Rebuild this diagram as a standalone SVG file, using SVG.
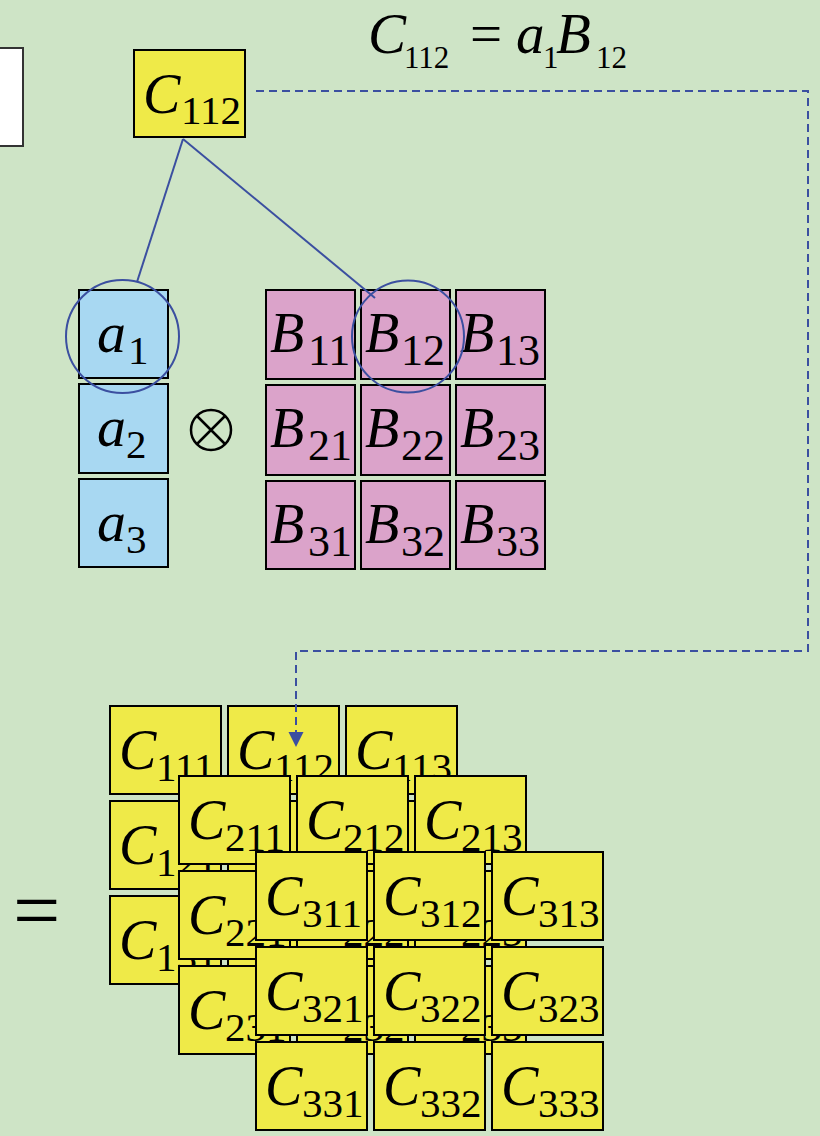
<svg xmlns="http://www.w3.org/2000/svg" width="820" height="1136" viewBox="0 0 820 1136" font-family="'Liberation Serif', 'DejaVu Serif', serif">
<defs>
<style>
.yb{fill:#EFEA48;stroke:#000;stroke-width:2}
.bb{fill:#A8D8F2;stroke:#000;stroke-width:2}
.pb{fill:#DBA3CA;stroke:#000;stroke-width:2}
.L{font-style:italic;font-size:56px}
.A{font-style:italic;font-size:58px}
.S{font-size:41px}
.SB{font-size:44px}
.FL{font-style:italic;font-size:57px}
.FR{font-size:57px}
.FS{font-size:31px}
.ln{fill:none;stroke:#3B4FA0;stroke-width:2}
.dash{fill:none;stroke:#3B4FA0;stroke-width:2;stroke-dasharray:8 5}
</style>
</defs>
<rect x="0" y="0" width="820" height="1136" fill="#CEE4C6"/>
<g id="whitebox"><rect x="-5" y="48" width="28" height="98" fill="#fff" stroke="#333" stroke-width="2"/></g>
<g id="formula">
<text class="FL" x="368" y="53">C</text><text class="FS" x="404" y="68">112</text>
<text class="FR" x="470" y="53">=</text>
<text class="FL" x="516" y="53">a</text><text class="FS" x="543" y="68">1</text>
<text class="FL" x="556" y="53">B</text><text class="FS" x="596" y="68">12</text>
</g>
<g id="c112top"><rect class="yb" x="134" y="50" width="111" height="87"/><text class="L" x="143" y="113">C</text><text class="S" x="181" y="124">112</text></g>
<g id="a1"><rect class="bb" x="79" y="290" width="89" height="88"/><text class="A" x="97" y="352">a</text><text class="S" x="128" y="364">1</text></g>
<g id="a2"><rect class="bb" x="79" y="384" width="89" height="89"/><text class="A" x="97" y="446">a</text><text class="S" x="126" y="458">2</text></g>
<g id="a3"><rect class="bb" x="79" y="479" width="89" height="88"/><text class="A" x="97" y="541">a</text><text class="S" x="126" y="553">3</text></g>
<g id="otimes"><circle cx="211" cy="430" r="20" fill="none" stroke="#000" stroke-width="2.5"/><path d="M197 416 L225 444 M225 416 L197 444" stroke="#000" stroke-width="2.5"/></g>
<g id="B11"><rect class="pb" x="266" y="290" width="89" height="89"/><text class="L" x="270" y="352">B</text><text class="SB" x="308" y="365">11</text></g>
<g id="B12"><rect class="pb" x="361" y="290" width="89" height="89"/><text class="L" x="365" y="352">B</text><text class="SB" x="401" y="365">12</text></g>
<g id="B13"><rect class="pb" x="456" y="290" width="89" height="89"/><text class="L" x="460" y="352">B</text><text class="SB" x="496" y="365">13</text></g>
<g id="B21"><rect class="pb" x="266" y="385" width="89" height="90"/><text class="L" x="270" y="447">B</text><text class="SB" x="308" y="460">21</text></g>
<g id="B22"><rect class="pb" x="361" y="385" width="89" height="90"/><text class="L" x="365" y="447">B</text><text class="SB" x="401" y="460">22</text></g>
<g id="B23"><rect class="pb" x="456" y="385" width="89" height="90"/><text class="L" x="460" y="447">B</text><text class="SB" x="496" y="460">23</text></g>
<g id="B31"><rect class="pb" x="266" y="481" width="89" height="88"/><text class="L" x="270" y="543">B</text><text class="SB" x="308" y="556">31</text></g>
<g id="B32"><rect class="pb" x="361" y="481" width="89" height="88"/><text class="L" x="365" y="543">B</text><text class="SB" x="401" y="556">32</text></g>
<g id="B33"><rect class="pb" x="456" y="481" width="89" height="88"/><text class="L" x="460" y="543">B</text><text class="SB" x="496" y="556">33</text></g>
<g id="equals"><text x="13" y="939" font-size="84">=</text></g>
<g id="C111"><rect class="yb" x="110" y="706" width="111" height="88"/><text class="L" x="119" y="769">C</text><text class="S" x="156" y="781">111</text></g>
<g id="C112"><rect class="yb" x="228" y="706" width="111" height="88"/><text class="L" x="237" y="769">C</text><text class="S" x="274" y="781">112</text></g>
<g id="C113"><rect class="yb" x="346" y="706" width="111" height="88"/><text class="L" x="355" y="769">C</text><text class="S" x="392" y="781">113</text></g>
<g id="C121"><rect class="yb" x="110" y="801" width="111" height="88"/><text class="L" x="119" y="864">C</text><text class="S" x="156" y="876">121</text></g>
<g id="C122"><rect class="yb" x="228" y="801" width="111" height="88"/><text class="L" x="237" y="864">C</text><text class="S" x="274" y="876">122</text></g>
<g id="C123"><rect class="yb" x="346" y="801" width="111" height="88"/><text class="L" x="355" y="864">C</text><text class="S" x="392" y="876">123</text></g>
<g id="C131"><rect class="yb" x="110" y="896" width="111" height="88"/><text class="L" x="119" y="959">C</text><text class="S" x="156" y="971">131</text></g>
<g id="C132"><rect class="yb" x="228" y="896" width="111" height="88"/><text class="L" x="237" y="959">C</text><text class="S" x="274" y="971">132</text></g>
<g id="C133"><rect class="yb" x="346" y="896" width="111" height="88"/><text class="L" x="355" y="959">C</text><text class="S" x="392" y="971">133</text></g>
<g id="C211"><rect class="yb" x="179" y="776" width="111" height="88"/><text class="L" x="188" y="839">C</text><text class="S" x="225" y="851">211</text></g>
<g id="C212"><rect class="yb" x="297" y="776" width="111" height="88"/><text class="L" x="306" y="839">C</text><text class="S" x="343" y="851">212</text></g>
<g id="C213"><rect class="yb" x="415" y="776" width="111" height="88"/><text class="L" x="424" y="839">C</text><text class="S" x="461" y="851">213</text></g>
<g id="C221"><rect class="yb" x="179" y="871" width="111" height="88"/><text class="L" x="188" y="934">C</text><text class="S" x="225" y="946">221</text></g>
<g id="C222"><rect class="yb" x="297" y="871" width="111" height="88"/><text class="L" x="306" y="934">C</text><text class="S" x="343" y="946">222</text></g>
<g id="C223"><rect class="yb" x="415" y="871" width="111" height="88"/><text class="L" x="424" y="934">C</text><text class="S" x="461" y="946">223</text></g>
<g id="C231"><rect class="yb" x="179" y="966" width="111" height="88"/><text class="L" x="188" y="1029">C</text><text class="S" x="225" y="1041">231</text></g>
<g id="C232"><rect class="yb" x="297" y="966" width="111" height="88"/><text class="L" x="306" y="1029">C</text><text class="S" x="343" y="1041">232</text></g>
<g id="C233"><rect class="yb" x="415" y="966" width="111" height="88"/><text class="L" x="424" y="1029">C</text><text class="S" x="461" y="1041">233</text></g>
<g id="C311"><rect class="yb" x="256" y="852" width="111" height="88"/><text class="L" x="265" y="915">C</text><text class="S" x="302" y="927">311</text></g>
<g id="C312"><rect class="yb" x="374" y="852" width="111" height="88"/><text class="L" x="383" y="915">C</text><text class="S" x="420" y="927">312</text></g>
<g id="C313"><rect class="yb" x="492" y="852" width="111" height="88"/><text class="L" x="501" y="915">C</text><text class="S" x="538" y="927">313</text></g>
<g id="C321"><rect class="yb" x="256" y="947" width="111" height="88"/><text class="L" x="265" y="1010">C</text><text class="S" x="302" y="1022">321</text></g>
<g id="C322"><rect class="yb" x="374" y="947" width="111" height="88"/><text class="L" x="383" y="1010">C</text><text class="S" x="420" y="1022">322</text></g>
<g id="C323"><rect class="yb" x="492" y="947" width="111" height="88"/><text class="L" x="501" y="1010">C</text><text class="S" x="538" y="1022">323</text></g>
<g id="C331"><rect class="yb" x="256" y="1042" width="111" height="88"/><text class="L" x="265" y="1105">C</text><text class="S" x="302" y="1117">331</text></g>
<g id="C332"><rect class="yb" x="374" y="1042" width="111" height="88"/><text class="L" x="383" y="1105">C</text><text class="S" x="420" y="1117">332</text></g>
<g id="C333"><rect class="yb" x="492" y="1042" width="111" height="88"/><text class="L" x="501" y="1105">C</text><text class="S" x="538" y="1117">333</text></g>
<g id="connectors">
<circle class="ln" cx="122.5" cy="336.5" r="56.5"/>
<circle class="ln" cx="408" cy="336.5" r="56"/>
<line class="ln" x1="183" y1="139" x2="137" y2="282"/>
<line class="ln" x1="183" y1="139" x2="375" y2="298"/>
<path class="dash" d="M256 91 H808 V651 H296 V734"/>
<path d="M288.5 732 L303.5 732 L296 747 Z" fill="#3B4FA0"/>
</g>
</svg>
